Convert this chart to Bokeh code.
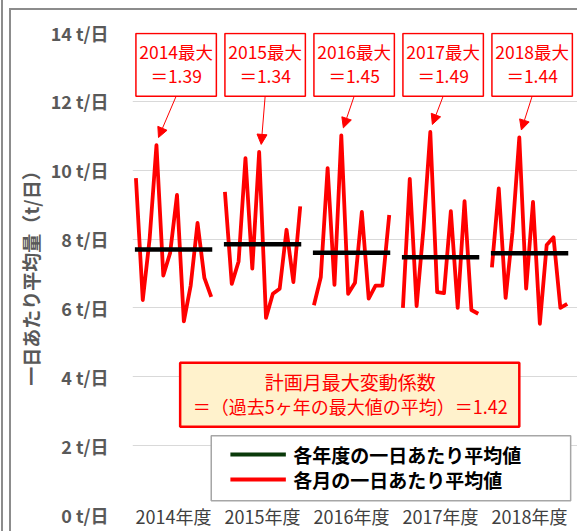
from bokeh.plotting import figure
from bokeh.models import ColumnDataSource, Range1d, FixedTicker, Arrow, NormalHead
from bokeh.core.properties import value
from bokeh.embed import file_html
from bokeh.resources import INLINE

years = ["2014", "2015", "2016", "2017", "2018"]
year_labels = ["2014年度", "2015年度", "2016年度", "2017年度", "2018年度"]
monthly_2014 = [9.77, 6.23, 8.00, 10.73, 6.94, 7.60, 9.28, 5.61, 6.65, 8.47, 6.87, 6.32]
monthly_2015 = [9.37, 6.70, 7.35, 10.35, 7.14, 10.53, 5.71, 6.41, 6.56, 8.27, 6.75, 8.95]
monthly_2016 = [6.08, 6.89, 10.06, 6.67, 11.01, 6.41, 6.73, 8.79, 6.27, 6.65, 6.65, 8.70]
monthly_2017 = [6.00, 9.75, 6.05, 8.30, 11.11, 6.46, 6.43, 8.81, 6.00, 9.10, 5.94, 5.83]
monthly_2018 = [7.18, 9.47, 6.29, 8.20, 10.95, 6.56, 9.08, 5.54, 7.83, 8.05, 6.00, 6.12]
annual_avg = [7.70, 7.85, 7.60, 7.47, 7.59]
max_ratio = [1.39, 1.34, 1.45, 1.49, 1.44]
y_ticks = [0, 2, 4, 6, 8, 10, 12, 14]
legend_labels = ["各年度の一日あたり平均値", "各月の一日あたり平均値"]
box_title = "計画月最大変動係数"

monthly = [monthly_2014, monthly_2015, monthly_2016, monthly_2017, monthly_2018]
SLOTS = 13  # 12 months + 1 gap per year
FONT = "Noto Sans CJK JP"
GRAY = "#8c8c8c"

p = figure(width=577, height=531, x_range=Range1d(-0.5, 64.5), y_range=Range1d(0, 14),
           output_backend="svg", toolbar_location=None,
           min_border_left=132, min_border_right=0, min_border_top=32, min_border_bottom=17)
p.outline_line_color = None
p.background_fill_color = "white"
p.border_fill_color = None
# outer chart border lines (decorative, behind the transparent border area)
grad = f"linear-gradient({GRAY},{GRAY})"
p.styles = {
    "background-color": "white",
    "background-image": f"{grad}, {grad}, {grad}",
    "background-size": "2px 100%, 100% 2px, 2px 100%",
    "background-position": "9px 8px, 9px 8px, 1px 0px",
    "background-repeat": "no-repeat",
}

# axes
p.xaxis.ticker = FixedTicker(ticks=[SLOTS * i + 5.5 for i in range(5)])
p.xaxis.major_label_overrides = {SLOTS * i + 5.5: lab for i, lab in enumerate(year_labels)}
p.xaxis.axis_line_color = None
p.xaxis.major_tick_line_color = None
p.xaxis.minor_tick_line_color = None
p.xaxis.major_label_standoff = -18
p.xaxis.major_label_text_font = FONT
p.xaxis.major_label_text_font_size = "18px"
p.xaxis.major_label_text_color = "#404040"

p.yaxis.ticker = FixedTicker(ticks=y_ticks)
p.yaxis.major_label_overrides = {v: f"{v} t/日" for v in y_ticks}
p.yaxis.axis_line_color = None
p.yaxis.major_tick_line_color = None
p.yaxis.minor_tick_line_color = None
p.yaxis.major_label_standoff = 18
p.yaxis.major_label_text_font = FONT
p.yaxis.major_label_text_font_style = "bold"
p.yaxis.major_label_text_font_size = "18px"
p.yaxis.major_label_text_color = "#595959"
p.yaxis.axis_label = "一日あたり平均量（t/日）"
p.yaxis.axis_label_text_font = FONT
p.yaxis.axis_label_text_font_style = "bold"
p.yaxis.axis_label_text_font_size = "19px"
p.yaxis.axis_label_text_color = "#595959"
p.yaxis.axis_label_standoff = 4

p.xgrid.visible = False
p.ygrid.ticker = FixedTicker(ticks=y_ticks[1:])
p.ygrid.grid_line_color = "#d9d9d9"
p.ygrid.grid_line_width = 1

# monthly red lines
xs = [[SLOTS * i + m for m in range(12)] for i in range(5)]
p.multi_line(xs=xs, ys=monthly, line_color="#ff0000", line_width=3.8, line_join="round")

# annual averages
p.segment(x0=[SLOTS * i - 0.15 for i in range(5)], x1=[SLOTS * i + 11.15 for i in range(5)],
          y0=annual_avg, y1=annual_avg, line_color="black", line_width=4.5)

# top callout boxes
p.quad(left=[SLOTS * i for i in range(5)], right=[SLOTS * i + 11.75 for i in range(5)],
       bottom=12.15, top=13.97, fill_color="white", line_color="#ff0000", line_width=1.5)
cx = [SLOTS * i + 5.875 for i in range(5)]
p.text(x=cx, y=[13.44] * 5, text=[f"{y}最大" for y in years], text_align="center",
       text_baseline="middle", text_font=value(FONT), text_font_size="17.5px", text_color="#ff0000")
p.text(x=cx, y=[12.76] * 5, text=[f"＝{r:.2f}" for r in max_ratio], text_align="center",
       text_baseline="middle", text_font=value(FONT), text_font_size="17.5px", text_color="#ff0000")

# arrows to yearly maxima
peak_idx = [m.index(max(m)) for m in monthly]
arrow_src = ColumnDataSource(data=dict(
    x0=cx, y0=[12.15] * 5,
    x1=[SLOTS * i + peak_idx[i] + 0.3 for i in range(5)],
    y1=[max(m) + 0.22 for m in monthly]))
p.add_layout(Arrow(end=NormalHead(size=10, fill_color="#ff0000", line_color="#ff0000"),
                   x_start="x0", y_start="y0", x_end="x1", y_end="y1", source=arrow_src,
                   line_color="#ff0000", line_width=1))

# center box
avg_ratio = sum(max_ratio) / len(max_ratio)
p.quad(left=[6.46], right=[56.0], bottom=[2.55], top=[4.41], fill_color="#fff2cc",
       line_color="#ff0000", line_width=2.5)
p.text(x=[31.3], y=[3.86], text=[box_title], text_align="center", text_baseline="middle",
       text_font=value(FONT), text_font_size="19px", text_color="#ff0000")
p.text(x=[31.3], y=[3.14], text=[f"＝（過去5ヶ年の最大値の平均）＝{avg_ratio:.2f}"],
       text_align="center", text_baseline="middle", text_font=value(FONT),
       text_font_size="18px", text_color="#ff0000")

# legend (drawn)
p.quad(left=[11.0], right=[63.5], bottom=[0.40], top=[2.29], fill_color="white",
       line_color="#a6a6a6", line_width=1.5)
p.segment(x0=[13.8, 13.8], x1=[21.9, 21.9], y0=[1.74, 1.02], y1=[1.74, 1.02],
          line_color=["#0a3a0a", "#ff0000"], line_width=4)
p.text(x=[22.97, 22.97], y=[1.74, 1.02], text=legend_labels, text_align="left",
       text_baseline="middle", text_font=value(FONT), text_font_style="bold",
       text_font_size="19px", text_color="black")

open("out.html", "w").write(file_html(p, INLINE))
